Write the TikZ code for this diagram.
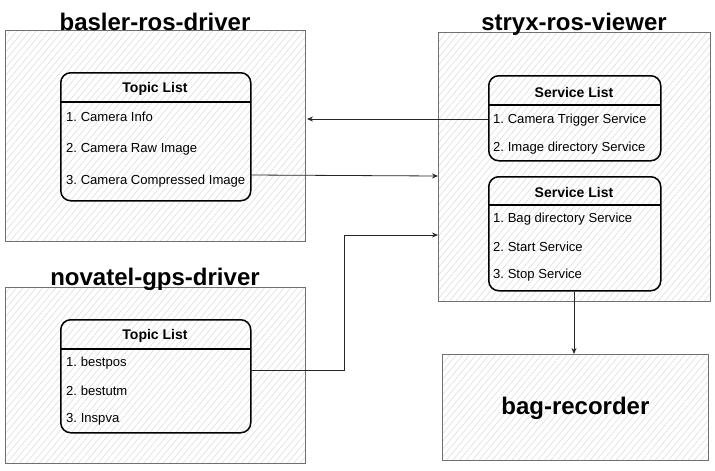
\documentclass[tikz,border=0pt]{standalone}
\usepackage{fontspec}
\setmainfont{Liberation Sans}
\frenchspacing
\usetikzlibrary{patterns.meta,arrows.meta,calc}
\definecolor{hatch}{HTML}{DADADA}
\definecolor{frame}{HTML}{707070}
\tikzset{
  compbox/.style={draw=frame,line width=0.8pt,anchor=north west,inner sep=0pt,
    pattern={Lines[angle=50,distance=5pt,line width=0.5pt]},pattern color=hatch},
  listbox/.style={draw=black,line width=1.5pt,rounded corners=10pt,anchor=north west,inner sep=0pt},
  title/.style={font=\fontsize{24}{26}\selectfont\bfseries},
  head/.style={font=\fontsize{14}{16}\selectfont\bfseries},
  item/.style={font=\fontsize{13.1}{15}\selectfont\frenchspacing,anchor=west,inner sep=0pt},
  conn/.style={draw=black!85,line width=0.8pt,-{Stealth[length=6pt,width=5pt]}},
}
\begin{document}
\begin{tikzpicture}[x=1pt,y=-1pt]
\useasboundingbox (0,0) rectangle (715,471);
\fill[white] (0,0) rectangle (715,471);
% outer component boxes
\node[compbox,minimum width=300pt,minimum height=211pt] (basler) at (5,30) {};
\node[compbox,minimum width=272pt,minimum height=269pt] (stryx) at (438,32) {};
\node[compbox,minimum width=300pt,minimum height=176pt] (novatel) at (5,287) {};
\node[compbox,minimum width=266pt,minimum height=106pt] (bag) at (442,354) {};
% titles
\node[title] (tb) at (155,22) {basler-ros-driver};
\node[title] (ts) at (574,24) {stryx-ros-viewer};
\node[title] (tn) at (155,279) {novatel-gps-driver};
\node[title] (tg) at ($(bag.center)+(0,1)$) {bag-recorder};
% basler topic list
\node[listbox,minimum width=190pt,minimum height=128pt] (bl) at (60,72) {};
\draw[line width=1.5pt] (60,102) -- (250,102);
\node[head] (blh) at (155,89) {Topic List};
\node[item] (bl1) at (66,117) {1. Camera Info};
\node[item] (bl2) at (66,149) {2. Camera Raw Image};
\node[item] (bl3) at (66,181) {3. Camera Compressed Image};
% stryx service list 1
\node[listbox,minimum width=172pt,minimum height=85pt] (s1) at (488,75) {};
\draw[line width=1.5pt] (488,105) -- (660,105);
\node[head] (s1h) at (574,92) {Service List};
\node[item] (s11) at (493,120) {1. Camera Trigger Service};
\node[item] (s12) at (493,148) {2. Image directory Service};
% stryx service list 2
\node[listbox,minimum width=172pt,minimum height=114pt] (s2) at (488,176) {};
\draw[line width=1.5pt] (488,205) -- (660,205);
\node[head] (s2h) at (574,192) {Service List};
\node[item] (s21) at (493,219) {1. Bag directory Service};
\node[item] (s22) at (493,247) {2. Start Service};
\node[item] (s23) at (493,275) {3. Stop Service};
% novatel topic list
\node[listbox,minimum width=190pt,minimum height=113pt] (nl) at (60,319) {};
\draw[line width=1.5pt] (60,349) -- (250,349);
\node[head] (nlh) at (155,336) {Topic List};
\node[item] (nl1) at (66,363) {1. bestpos};
\node[item] (nl2) at (66,391) {2. bestutm};
\node[item] (nl3) at (66,419) {3. Inspva};
% connectors
\coordinate (c1) at (307,119);
\draw[conn] (s1.west |- c1) -- (c1);
\coordinate (c2s) at (250,175);
\coordinate (c2e) at (438,176);
\draw[conn] (c2s) -- (c2e);
\coordinate (c3s) at (250,370);
\coordinate (c3m) at (344,370);
\coordinate (c3e) at (438,235);
\draw[conn] (c3s) -- (c3m) |- (c3e);
\draw[conn] (s2.south -| 574,0) -- (bag.north -| 574,0);
\end{tikzpicture}
\end{document}
